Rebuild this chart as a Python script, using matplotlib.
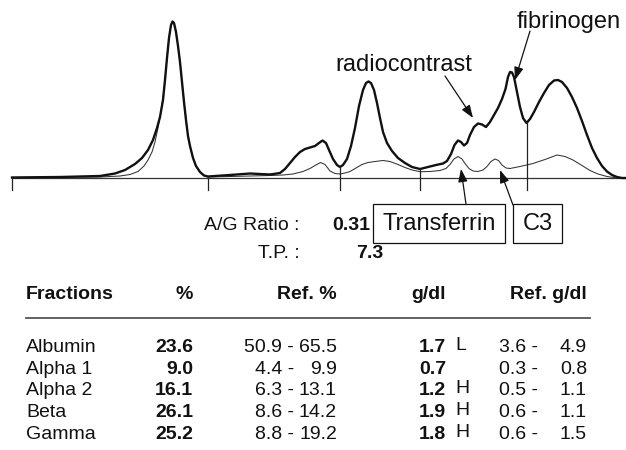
import numpy as np
import matplotlib
matplotlib.use("Agg")
import matplotlib.pyplot as plt
from matplotlib.patches import Rectangle

plt.rcParams['font.family'] = ['Liberation Sans', 'DejaVu Sans']

# ---------------- data ----------------
# electropherogram: position along the strip and density height above baseline
patient_x = [12, 60, 100, 115, 125, 135, 142, 148, 153, 157, 160, 163, 165, 167, 169, 171, 172.5,
             174, 176, 178, 180, 182, 184, 186, 188, 190, 193, 196, 200, 204, 208, 230, 250, 270,
             280, 285, 290, 295, 300, 305, 310, 315, 319, 322.5, 326, 329, 333, 337, 340, 343, 347,
             351, 355, 359, 363, 366, 368.5, 371, 374, 377, 380, 383, 387, 392, 398, 405, 412, 420,
             428, 436, 443, 447, 451, 454.5, 458, 461, 464, 467, 470, 474, 478, 482, 486, 490, 494,
             498, 502, 505.5, 508, 510, 512, 514, 517, 520, 523, 526.5, 530, 534, 539, 544, 549,
             554, 558, 562, 567, 572, 577, 582, 587, 592, 597, 602, 607, 612, 617, 622, 626]
patient_h = [0.5, 1, 2, 4.5, 8, 14, 20, 28, 38, 50, 61, 78, 98, 120, 140, 153, 156.5,
             155, 146, 132, 116, 96, 76, 58, 42, 32, 20, 12, 6, 2.5, 1.5, 3, 4.5, 3.5,
             5, 9, 15, 21, 26, 29, 30.5, 32, 35, 37.5, 35, 28, 19, 13, 11, 13, 19,
             32, 50, 72, 88, 95, 96.5, 95, 88, 75, 60, 46, 35, 27, 20, 15, 11, 9,
             11, 13, 14.5, 17, 24, 33, 37.5, 36, 32.5, 35, 43, 51, 54.5, 53.5, 51, 56, 63,
             70, 79, 89, 101, 106, 105.5, 101, 86, 71, 60, 55, 59, 66, 76, 85, 93,
             97.5, 98, 96, 90, 81, 70, 57, 43, 30, 20, 12, 6.5, 3, 1, 0, 0]

reference_x = [12, 100, 120, 130, 138, 144, 148, 152, 155, 158, 161, 163, 165, 167, 169, 171, 172.5,
               174, 176, 178, 180, 182, 184, 186, 188, 190, 193, 196, 200, 204, 208, 230, 250, 270,
               283, 293, 303, 310, 315, 320.5, 325, 330, 335, 340, 345, 350, 356, 362, 368, 375,
               383, 390, 398, 405, 412, 420, 430, 440, 446, 450, 454, 458, 462, 465, 469, 473,
               478, 483, 487, 491, 495, 498.5, 502, 506, 510, 520, 533, 545, 557, 565, 573, 582,
               590, 598, 607, 617, 626]
reference_h = [0.5, 1, 2, 3.5, 6.5, 12, 18, 26, 36, 50, 67, 80, 98, 120, 140, 153, 156.5,
               155, 146, 132, 116, 96, 76, 58, 42, 32, 20, 12, 6, 2.5, 1, 1.5, 2, 2.5,
               3, 4, 6.5, 9.5, 12.5, 15.5, 13.5, 7, 4.5, 4, 5, 6.5, 10, 13.5, 15.5, 16.5,
               17.5, 16.5, 13.5, 10.5, 8, 6.3, 6.5, 7.5, 9.5, 13.5, 19, 21.5, 19, 14.5, 9.5, 7,
               6.5, 8, 11.5, 16.5, 19, 17.5, 13, 10, 9.5, 11.5, 14.5, 18.5, 23, 21.5, 18, 12.5,
               7.5, 4, 1.5, 0, 0]

divider_x = [12, 208, 340, 420, 527]

ag_ratio = "0.31"
total_protein = "7.3"

fractions = ["Albumin", "Alpha 1", "Alpha 2", "Beta", "Gamma"]
percent = ["23.6", "9.0", "16.1", "26.1", "25.2"]
ref_pct_low = ["50.9", "4.4", "6.3", "8.6", "8.8"]
ref_pct_high = ["65.5", "9.9", "13.1", "14.2", "19.2"]
gdl = ["1.7", "0.7", "1.2", "1.9", "1.8"]
flags = ["L", "", "H", "H", "H"]
ref_gdl_low = ["3.6", "0.3", "0.5", "0.6", "0.6"]
ref_gdl_high = ["4.9", "0.8", "1.1", "1.1", "1.5"]
headers = ["Fractions", "%", "Ref. %", "g/dl", "Ref. g/dl"]

# ---------------- figure ----------------
W, H = 626, 450
BASE = 178  # baseline pixel row
fig = plt.figure(figsize=(W / 100, H / 100), dpi=100)
ax = fig.add_axes([0, 0, 1, 1])
ax.set_xlim(0, W)
ax.set_ylim(BASE - H, BASE)
ax.axis('off')

def P(x, py):
    return (x, BASE - py)

ink = '#111111'

# baseline
ax.plot([divider_x[0], W], [0, 0], color='#333333', lw=0.9)
# curves
ax.plot(reference_x, reference_h, color='#333333', lw=0.75, solid_joinstyle='round')
ax.plot(patient_x, patient_h, color=ink, lw=1.7, solid_joinstyle='round')
# fraction dividers
tops = np.interp(divider_x, patient_x, patient_h)
for i, (dx, t) in enumerate(zip(divider_x, tops)):
    top = 0 if i < 2 else t
    ax.plot([dx, dx], [top, -12], color='#222222', lw=0.9)

# annotations
lab_fs = 17
arrow = dict(arrowstyle='-|>,head_length=0.55,head_width=0.2', color=ink, lw=0.9,
             mutation_scale=14, shrinkA=0, shrinkB=0)
ax.text(*P(404, 65), "radiocontrast", fontsize=lab_fs, ha='center', va='center', color=ink)
ax.annotate("", xy=P(473, 118), xytext=P(445, 76), arrowprops=arrow)
ax.text(*P(569, 22), "fibrinogen", fontsize=lab_fs, ha='center', va='center', color=ink)
ax.annotate("", xy=P(515, 80), xytext=P(530, 31), arrowprops=arrow)

# Transferrin and C3 boxes
for (x0, x1, label, tail, head) in [(373, 505, "Transferrin", (466, 204), (461, 169)),
                                    (513, 562, "C3", (513, 205), (500, 170))]:
    ax.add_patch(Rectangle(P(x0, 243), x1 - x0, 39, fill=False, ec=ink, lw=0.9))
    ax.text(*P((x0 + x1) / 2, 224), label, fontsize=lab_fs, ha='center', va='center', color=ink)
    ax.annotate("", xy=P(*head), xytext=P(*tail), arrowprops=arrow)

# A/G ratio and total protein
fs = 14
ax.text(*P(300, 230), "A/G Ratio :", fontsize=fs, ha='right', va='baseline', color=ink)
ax.text(*P(370, 230), ag_ratio, fontsize=fs, ha='right', va='baseline', weight='bold', color=ink)
ax.text(*P(300, 258), "T.P. :", fontsize=fs, ha='right', va='baseline', color=ink)
ax.text(*P(383, 258), total_protein, fontsize=fs, ha='right', va='baseline', weight='bold', color=ink)

# table
hy = 299
ax.text(*P(26, hy), headers[0], fontsize=fs, ha='left', va='baseline', weight='bold', color=ink)
ax.text(*P(193, hy), headers[1], fontsize=fs, ha='right', va='baseline', weight='bold', color=ink)
ax.text(*P(337, hy), headers[2], fontsize=fs, ha='right', va='baseline', weight='bold', color=ink)
ax.text(*P(446, hy), headers[3], fontsize=fs, ha='right', va='baseline', weight='bold', color=ink)
ax.text(*P(587, hy), headers[4], fontsize=fs, ha='right', va='baseline', weight='bold', color=ink)
ax.plot(*zip(P(26, 318), P(590, 318)), color='#555555', lw=1.3)

row0, dy = 352, 21.7
for i in range(len(fractions)):
    y = row0 + i * dy
    ax.text(*P(26, y), fractions[i], fontsize=fs, ha='left', va='baseline', color=ink)
    ax.text(*P(193, y), percent[i], fontsize=fs, ha='right', va='baseline', weight='bold', color=ink)
    ax.text(*P(294, y), ref_pct_low[i] + " -", fontsize=fs, ha='right', va='baseline', color=ink)
    ax.text(*P(337, y), ref_pct_high[i], fontsize=fs, ha='right', va='baseline', color=ink)
    ax.text(*P(446, y), gdl[i], fontsize=fs, ha='right', va='baseline', weight='bold', color=ink)
    if flags[i]:
        ax.text(*P(455, y - 2), flags[i], fontsize=fs, ha='left', va='baseline', color=ink)
    ax.text(*P(538, y), ref_gdl_low[i] + " -", fontsize=fs, ha='right', va='baseline', color=ink)
    ax.text(*P(587, y), ref_gdl_high[i], fontsize=fs, ha='right', va='baseline', color=ink)

fig.savefig("out.png", dpi=100)
